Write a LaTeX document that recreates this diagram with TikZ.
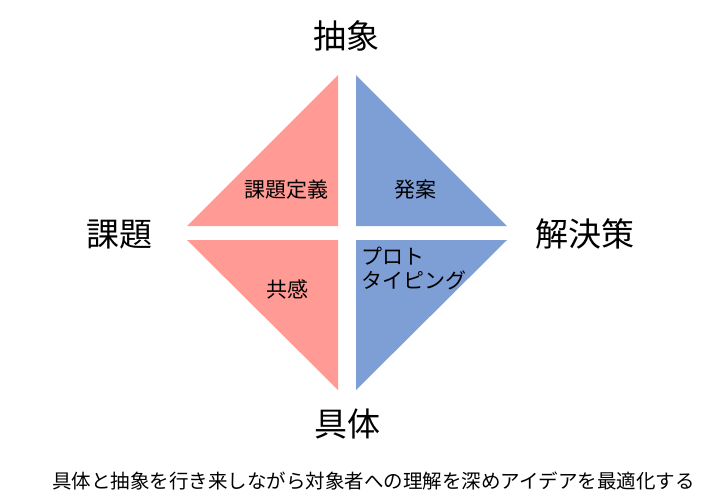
\documentclass[tikz,border=0pt]{standalone}
\usepackage{fontspec}
\setmainfont{Noto Sans CJK JP}
\definecolor{pinkq}{RGB}{255,155,148}
\definecolor{blueq}{RGB}{126,158,214}
\begin{document}
\begin{tikzpicture}[x=1pt,y=-1pt,
  axislabel/.style={inner sep=0pt,font=\fontsize{33}{36}\selectfont},
  innerlabel/.style={inner sep=0pt,font=\fontsize{21}{24}\selectfont},
  caption/.style={inner sep=0pt,font=\fontsize{19.5}{22}\selectfont}]
\useasboundingbox[fill=white] (0,0) rectangle (724,504);
% quadrants
\fill[pinkq] (187,226) -- (338,226) -- (338,75) -- cycle;
\fill[blueq] (356,75) -- (356,226) -- (507,226) -- cycle;
\fill[pinkq] (187,240) -- (338,240) -- (338,390) -- cycle;
\fill[blueq] (356,240) -- (507,240) -- (356,390) -- cycle;
% axis labels
\node[axislabel] (top) at (346.5,36) {抽象};
\node[axislabel] (left) at (119.5,234.5) {課題};
\node[axislabel] (right) at (585,234) {解決策};
\node[axislabel] (bottom) at (347,424) {具体};
% quadrant labels
\node[innerlabel] (define) at (286,190) {課題定義};
\node[innerlabel] (idea) at (415,190) {発案};
\node[innerlabel] (empathy) at (287,289) {共感};
\node[innerlabel,anchor=west,align=left] (proto) at (361,268) {プロト\\タイピング};
% caption
\node[caption] (cap) at (373.5,481) {具体と抽象を行き来しながら対象者への理解を深めアイデアを最適化する};
\end{tikzpicture}
\end{document}
